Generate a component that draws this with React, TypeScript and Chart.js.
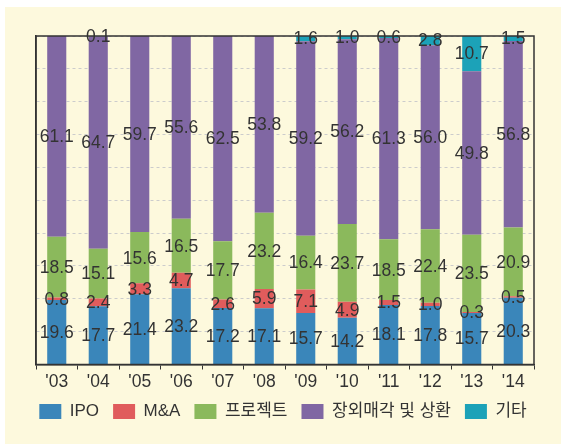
import React, { useEffect, useRef } from "react";
import { Chart, registerables } from "chart.js";

Chart.register(...registerables);

const categories = ["'03", "'04", "'05", "'06", "'07", "'08", "'09", "'10", "'11", "'12", "'13", "'14"];
const ipo = [19.6, 17.7, 21.4, 23.2, 17.2, 17.1, 15.7, 14.2, 18.1, 17.8, 15.7, 20.3];
const mna = [0.8, 2.4, 3.3, 4.7, 2.6, 5.9, 7.1, 4.9, 1.5, 1.0, 0.3, 0.5];
const project = [18.5, 15.1, 15.6, 16.5, 17.7, 23.2, 16.4, 23.7, 18.5, 22.4, 23.5, 20.9];
const otc = [61.1, 64.7, 59.7, 55.6, 62.5, 53.8, 59.2, 56.2, 61.3, 56.0, 49.8, 56.8];
const etc = [null, 0.1, null, null, null, null, 1.6, 1.0, 0.6, 2.8, 10.7, 1.5];

const seriesNames = ["IPO", "M&A", "프로젝트", "장외매각 및 상환", "기타"];
const seriesColors = ["#3a86ba", "#e05c5c", "#8bb95c", "#8067a3", "#1ca2b8"];

const FONT = "'Liberation Sans', Arial, 'Noto Sans CJK KR', sans-serif";

const labelPlugin = {
  id: "segLabels",
  afterDatasetsDraw(chart: any) {
    const ctx = chart.ctx;
    ctx.save();
    ctx.font = `17.5px ${FONT}`;
    ctx.fillStyle = "#333333";
    ctx.textAlign = "center";
    ctx.textBaseline = "middle";
    chart.data.datasets.forEach((ds: any, di: number) => {
      const meta = chart.getDatasetMeta(di);
      meta.data.forEach((el: any, i: number) => {
        const v = ds.data[i];
        if (v === null || v === undefined) return;
        const y = (el.y + el.base) / 2;
        ctx.fillText(v.toFixed(1), el.x, y + 1);
      });
    });
    const a = chart.chartArea;
    ctx.strokeStyle = "#333333";
    ctx.lineWidth = 1.5;
    ctx.strokeRect(a.left, a.top, a.right - a.left, a.bottom - a.top);
    ctx.restore();
  },
};

export default function App() {
  const ref = useRef<HTMLCanvasElement>(null);
  useEffect(() => {
    const values = [ipo, mna, project, otc, etc];
    const chart = new Chart(ref.current as HTMLCanvasElement, {
      type: "bar",
      data: {
        labels: categories,
        datasets: values.map((d, i) => ({
          label: seriesNames[i],
          data: d as any,
          backgroundColor: seriesColors[i],
          borderWidth: 0,
          barPercentage: 0.46,
          categoryPercentage: 1,
        })),
      },
      options: {
        responsive: false,
        animation: false,
        layout: { padding: { left: 0, right: 0, top: 29, bottom: 14 } },
        plugins: {
          legend: {
            position: "bottom",
            labels: {
              boxWidth: 22,
              boxHeight: 15,
              padding: 14,
              color: "#333333",
              font: { size: 17, family: FONT, lineHeight: 1 },
            },
          },
          tooltip: { enabled: false },
        },
        scales: {
          x: {
            stacked: true,
            grid: { drawOnChartArea: false, drawTicks: true, tickLength: 5, color: "#333333" },
            border: { color: "#333333", width: 1.5 },
            ticks: { color: "#333333", font: { size: 17.5, family: FONT, lineHeight: 1 }, padding: 4 },
            afterFit: (s: any) => { s.height = s.height - 6; },
          },
          y: {
            stacked: true,
            min: 0,
            max: 100,
            ticks: { display: false, stepSize: 10 },
            grid: { color: "#cccccc", drawTicks: false, lineWidth: 1 },
            border: { display: true, dash: [3, 3], color: "#333333", width: 1.5 },
            afterFit: (s: any) => { s.width = 31; },
          },
          yR: {
            position: "right",
            min: 0,
            max: 100,
            ticks: { display: false },
            grid: { display: false, drawTicks: false },
            border: { display: false },
            afterFit: (s: any) => { s.width = 27; },
          },
        },
      },
      plugins: [labelPlugin],
    });
    return () => chart.destroy();
  }, []);
  return (
    <div style={{ position: "absolute", left: 0, top: 0, width: 561, height: 444, background: "#ffffff" }}>
      <div style={{ position: "absolute", left: 5, top: 7, width: 556, height: 437, background: "#fdf9dd" }}>
        <canvas ref={ref} width={556} height={437} style={{ display: "block" }} />
      </div>
    </div>
  );
}
